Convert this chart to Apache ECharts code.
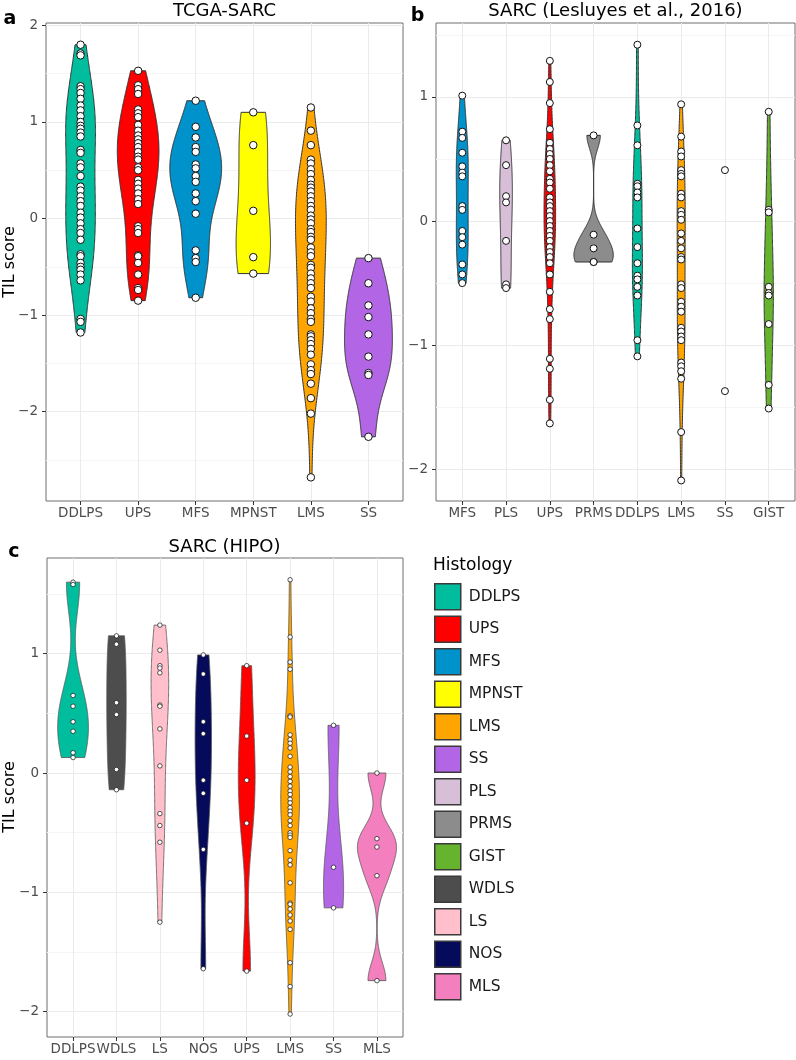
<!DOCTYPE html>
<html><head><meta charset="utf-8">
<script src="https://cdn.jsdelivr.net/npm/echarts@6/dist/echarts.min.js"></script>
<style>html,body{margin:0;padding:0;background:#fff}#chart{width:796px;height:1060px}</style>
</head><body><div id="chart"></div>
<script>
// ---------------- DATA ----------------
const catsA = ['DDLPS','UPS','MFS','MPNST','LMS','SS'];
const a_DDLPS = [1.80,1.71,1.69,1.37,1.34,1.30,1.24,1.17,1.12,1.06,1.00,0.96,0.93,0.89,0.85,0.71,0.68,0.57,0.53,0.44,0.33,0.29,0.23,0.18,0.13,0.06,0.01,-0.05,-0.11,-0.15,-0.22,-0.37,-0.39,-0.46,-0.50,-0.53,-0.58,-0.64,-1.04,-1.07,-1.18];
const a_UPS = [1.53,1.38,1.34,1.29,1.13,1.09,1.05,0.97,0.91,0.86,0.82,0.78,0.74,0.69,0.64,0.61,0.53,0.50,0.40,0.36,0.31,0.26,0.20,0.15,-0.08,-0.11,-0.15,-0.38,-0.39,-0.46,-0.58,-0.72,-0.74,-0.85];
const a_MFS = [1.22,0.95,0.84,0.74,0.69,0.56,0.52,0.44,0.38,0.26,0.18,0.05,-0.33,-0.41,-0.45,-0.82];
const a_MPNST = [1.10,0.76,0.08,-0.40,-0.57];
const a_LMS = [1.15,0.91,0.76,0.61,0.57,0.51,0.46,0.40,0.35,0.32,0.28,0.23,0.18,0.13,0.09,0.03,-0.01,-0.05,-0.11,-0.14,-0.19,-0.22,-0.30,-0.35,-0.39,-0.48,-0.51,-0.57,-0.62,-0.67,-0.72,-0.81,-0.86,-0.93,-0.98,-1.04,-1.07,-1.20,-1.22,-1.26,-1.30,-1.35,-1.41,-1.51,-1.57,-1.61,-1.71,-1.86,-2.02,-2.68];
const a_SS = [-0.41,-0.67,-0.90,-1.02,-1.20,-1.43,-1.60,-1.62,-2.26];

const catsB = ['MFS','PLS','UPS','PRMS','DDLPS','LMS','SS','GIST'];
const b_MFS = [1.01,0.72,0.67,0.55,0.44,0.39,0.36,0.12,0.09,-0.08,-0.13,-0.19,-0.35,-0.43,-0.50];
const b_PLS = [0.65,0.45,0.20,0.15,-0.16,-0.51,-0.54];
const b_UPS = [1.29,1.12,0.95,0.74,0.63,0.58,0.54,0.50,0.45,0.40,0.34,0.31,0.26,0.19,0.15,0.12,0.08,0.04,0.00,-0.04,-0.08,-0.12,-0.16,-0.21,-0.25,-0.29,-0.34,-0.43,-0.57,-0.71,-0.79,-1.11,-1.19,-1.44,-1.63];
const b_PRMS = [0.69,-0.11,-0.22,-0.33,-0.33];
const b_DDLPS = [1.42,0.77,0.61,0.30,0.28,0.23,0.19,-0.06,-0.21,-0.34,-0.44,-0.47,-0.53,-0.60,-0.96,-1.09];
const b_LMS = [0.94,0.68,0.56,0.52,0.41,0.38,0.36,0.22,0.19,0.08,0.05,0.01,-0.10,-0.16,-0.22,-0.29,-0.31,-0.51,-0.54,-0.65,-0.69,-0.73,-0.86,-0.89,-0.93,-0.96,-1.14,-1.17,-1.21,-1.27,-1.70,-2.09];
const b_SS = [0.41,-1.37];
const b_GIST = [0.88,0.09,0.07,-0.53,-0.58,-0.60,-0.83,-1.32,-1.51];

const catsC = ['DDLPS','WDLS','LS','NOS','UPS','LMS','SS','MLS'];
const c_DDLPS = [1.60,1.58,0.65,0.56,0.43,0.35,0.17,0.13];
const c_WDLS = [1.15,1.08,0.59,0.49,0.03,-0.14];
const c_LS = [1.24,1.03,0.90,0.88,0.84,0.57,0.56,0.37,0.06,-0.34,-0.44,-0.58,-1.25];
const c_NOS = [0.99,0.83,0.43,0.33,-0.06,-0.17,-0.64,-1.64];
const c_UPS = [0.90,0.31,-0.06,-0.42,-1.66];
const c_LMS = [1.62,1.14,0.93,0.87,0.48,0.47,0.32,0.28,0.25,0.21,0.14,0.05,0.01,-0.03,-0.07,-0.11,-0.15,-0.18,-0.22,-0.25,-0.29,-0.32,-0.35,-0.40,-0.44,-0.50,-0.52,-0.54,-0.65,-0.73,-0.77,-0.92,-1.09,-1.10,-1.14,-1.19,-1.24,-1.31,-1.59,-1.79,-2.02];
const c_SS = [0.40,-0.79,-1.13];
const c_MLS = [0.00,-0.55,-0.62,-0.86,-1.74];

const ticksA = [-2,-1,0,1,2];
const minorA = [-2.5,-1.5,-0.5,0.5,1.5];
const ticksB = [-2,-1,0,1];
const minorB = [-1.5,-0.5,0.5,1.5];
const ticksC = [-2,-1,0,1];
const minorC = [-1.5,-0.5,0.5,1.5];

const legendOrder = ['DDLPS','UPS','MFS','MPNST','LMS','SS','PLS','PRMS','GIST','WDLS','LS','NOS','MLS'];

// ---------------- STYLE ----------------
const histColors = {
  DDLPS:'#00BE9D', UPS:'#FF0000', MFS:'#0092CB', MPNST:'#FFFF00', LMS:'#FFA500',
  SS:'#B266E6', PLS:'#D8BFD8', PRMS:'#8C8C8C', GIST:'#66B32E', WDLS:'#4D4D4D',
  LS:'#FFC0CB', NOS:'#050A5A', MLS:'#F47FBE'
};
const FONT = 'DejaVu Sans';

// ---------------- KDE (ggplot-like violin) ----------------
function q7(s, p){ const h=(s.length-1)*p; const lo=Math.floor(h); const hi=Math.min(lo+1,s.length-1); return s[lo]+(h-lo)*(s[hi]-s[lo]); }
function bwNrd0(x){
  const n=x.length; const m=x.reduce((a,v)=>a+v,0)/n;
  const sd=Math.sqrt(x.reduce((a,v)=>a+(v-m)*(v-m),0)/(n-1));
  const s=[...x].sort((a,b)=>a-b); const iqr=q7(s,0.75)-q7(s,0.25);
  let lo=Math.min(sd, iqr/1.34); if(!lo) lo = sd || Math.abs(x[0]) || 1;
  return 0.9*lo*Math.pow(n,-0.2);
}
function kde(x, nGrid){
  const bw=bwNrd0(x); const lo=Math.min(...x), hi=Math.max(...x);
  const ys=[], ds=[];
  for(let k=0;k<nGrid;k++){
    const y=lo+(hi-lo)*k/(nGrid-1); let s=0;
    for(const v of x){ const z=(y-v)/bw; s+=Math.exp(-0.5*z*z); }
    ys.push(y); ds.push(s/(x.length*bw*Math.sqrt(2*Math.PI)));
  }
  return {ys, ds};
}

const panels = [
  {id:'a', cats:catsA, groups:[a_DDLPS,a_UPS,a_MFS,a_MPNST,a_LMS,a_SS], xi:0, yi:0, pt:7.5, pbw:1, olw:1, oc:'#333'},
  {id:'b', cats:catsB, groups:[b_MFS,b_PLS,b_UPS,b_PRMS,b_DDLPS,b_LMS,b_SS,b_GIST], xi:1, yi:2, pt:7, pbw:1, olw:1, oc:'#333'},
  {id:'c', cats:catsC, groups:[c_DDLPS,c_WDLS,c_LS,c_NOS,c_UPS,c_LMS,c_SS,c_MLS], xi:2, yi:4, pt:4.5, pbw:0.7, olw:0.8, oc:'#555'}
];

const series = [];
panels.forEach(p => {
  const dens = p.groups.map(g => g.length >= 3 ? kde(g, 256) : null);
  const maxD = Math.max(...dens.filter(Boolean).map(d => Math.max(...d.ds)));
  p.cats.forEach((cat, ci) => {
    const d = dens[ci]; if (!d) return;
    const half = d.ds.map(v => v / maxD * 0.45);
    series.push({
      type:'custom', name:cat, xAxisIndex:p.xi, yAxisIndex:p.yi, silent:true, z:2,
      itemStyle:{color:histColors[cat]},
      data:[[ci, d.ys[0], d.ys[d.ys.length-1]]],
      renderItem:(params, api) => {
        const pts = [];
        for (let k=0;k<d.ys.length;k++) pts.push(api.coord([ci + half[k], d.ys[k]]));
        for (let k=d.ys.length-1;k>=0;k--) pts.push(api.coord([ci - half[k], d.ys[k]]));
        return {type:'polygon', shape:{points:pts}, style:{fill:histColors[cat], stroke:p.oc, lineWidth:p.olw}};
      }
    });
  });
  const pts = [];
  p.groups.forEach((g, ci) => g.forEach(v => pts.push([ci, v])));
  series.push({
    type:'scatter', name:'points_'+p.id, xAxisIndex:p.xi, yAxisIndex:p.yi, z:3, silent:true,
    symbol:'circle', symbolSize:p.pt, data:pts,
    itemStyle:{color:'#fff', borderColor:'#111', borderWidth:p.pbw, opacity:1}
  });
});

const minusFmt = v => { const n = Math.round(v*100)/100; return n < 0 ? '\u2212' + Math.abs(n) : String(n); };

function xAxis(gi, cats){
  const idx = cats.map((c,i)=>i);
  return {
    type:'value', gridIndex:gi, min:-0.6, max:cats.length-0.4, position:'bottom',
    axisLine:{show:false, onZero:false},
    axisTick:{show:true, customValues:idx, length:4, lineStyle:{color:'#333', width:1}},
    axisLabel:{customValues:idx, formatter:v=>cats[Math.round(v)], color:'#4D4D4D', fontSize:13.5, fontFamily:FONT, margin:5},
    splitLine:{show:true, lineStyle:{color:'#EBEBEB', width:1}}
  };
}
function yAxes(gi, min, max, ticks, minor){
  return [
    {type:'value', gridIndex:gi, min:min, max:max, position:'left',
     axisLine:{show:false, onZero:false},
     axisTick:{show:true, customValues:ticks, length:4, lineStyle:{color:'#333', width:1}},
     axisLabel:{customValues:ticks, formatter:minusFmt, color:'#4D4D4D', fontSize:13.5, fontFamily:FONT, margin:8},
     splitLine:{show:true, lineStyle:{color:'#EBEBEB', width:1}}, z:1},
    {type:'value', gridIndex:gi, min:min, max:max, position:'right',
     axisLine:{show:false, onZero:false},
     axisTick:{show:false, customValues:minor},
     axisLabel:{show:false},
     splitLine:{show:true, lineStyle:{color:'#F4F4F4', width:1}}, z:0}
  ];
}

const gridStyle = {show:true, borderColor:'#6e6e6e', borderWidth:1, backgroundColor:'transparent', containLabel:false};

const option = {
  animation:false,
  backgroundColor:'#fff',
  grid:[
    Object.assign({left:46, top:23, width:357, height:478}, gridStyle),
    Object.assign({left:436, top:23, width:359, height:478}, gridStyle),
    Object.assign({left:47, top:558, width:356, height:479}, gridStyle)
  ],
  xAxis:[ xAxis(0, catsA), xAxis(1, catsB), xAxis(2, catsC) ],
  yAxis:[].concat(
    yAxes(0, -2.925, 2.025, ticksA, minorA),
    yAxes(1, -2.255, 1.595, ticksB, minorB),
    yAxes(2, -2.2125, 1.8025, ticksC, minorC)
  ),
  legend:{
    data:legendOrder, orient:'vertical', left:434, top:583, padding:0,
    itemWidth:26, itemHeight:26, itemGap:5, icon:'rect', selectedMode:false,
    itemStyle:{borderColor:'#3a3a3a', borderWidth:1.5},
    textStyle:{fontSize:15.5, color:'#1a1a1a', fontFamily:FONT, padding:[0,0,0,3]}
  },
  graphic:[
    {type:'text', x:224.5, y:11, style:{text:'TCGA-SARC', font:'18px "DejaVu Sans"', fill:'#000', textAlign:'center', textVerticalAlign:'middle'}},
    {type:'text', x:615.5, y:11, style:{text:'SARC (Lesluyes et al., 2016)', font:'18px "DejaVu Sans"', fill:'#000', textAlign:'center', textVerticalAlign:'middle'}},
    {type:'text', x:224.5, y:547, style:{text:'SARC (HIPO)', font:'18px "DejaVu Sans"', fill:'#000', textAlign:'center', textVerticalAlign:'middle'}},
    {type:'text', x:10, y:19, style:{text:'a', font:'bold 19px "DejaVu Sans"', fill:'#000', textAlign:'center', textVerticalAlign:'middle'}},
    {type:'text', x:417.5, y:16, style:{text:'b', font:'bold 19px "DejaVu Sans"', fill:'#000', textAlign:'center', textVerticalAlign:'middle'}},
    {type:'text', x:14, y:552, style:{text:'c', font:'bold 19px "DejaVu Sans"', fill:'#000', textAlign:'center', textVerticalAlign:'middle'}},
    {type:'text', x:10, y:262, rotation:Math.PI/2, style:{text:'TIL score', font:'16px "DejaVu Sans"', fill:'#000', textAlign:'center', textVerticalAlign:'middle'}},
    {type:'text', x:10, y:797, rotation:Math.PI/2, style:{text:'TIL score', font:'16px "DejaVu Sans"', fill:'#000', textAlign:'center', textVerticalAlign:'middle'}},
    {type:'text', x:433, y:566, style:{text:'Histology', font:'17px "DejaVu Sans"', fill:'#000', textAlign:'left', textVerticalAlign:'middle'}}
  ],
  series:series
};

const chart = echarts.init(document.getElementById('chart'), null, {renderer:'canvas'});
chart.setOption(option);
</script>
</body></html>
